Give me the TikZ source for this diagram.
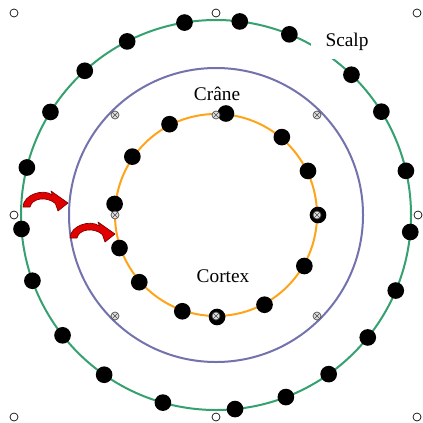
\documentclass[tikz,border=0pt]{standalone}
\usepackage{fontspec}
\setmainfont{Liberation Serif}
\usetikzlibrary{positioning,calc}
\definecolor{scalpgreen}{HTML}{35A070}
\definecolor{craneblue}{HTML}{7272AC}
\definecolor{cortexorange}{HTML}{FFA31A}
\definecolor{arrowred}{HTML}{E00000}
\definecolor{arrowdark}{HTML}{7A0000}

\begin{document}
\begin{tikzpicture}[x=0.75pt,y=0.75pt,
  ring/.style={line width=1.5pt},
  elec/.style={circle,fill=black,inner sep=0pt,minimum size=12.5pt},
  handle/.style={circle,draw=black,line width=0.5pt,fill=white,inner sep=0pt,minimum size=6pt},
  xhandle/.style={circle,draw=black!70,line width=0.5pt,fill=gray!25,inner sep=0pt,minimum size=6pt,
    path picture={\draw[black!70,line width=0.45pt] (path picture bounding box.south west) -- (path picture bounding box.north east)
      (path picture bounding box.north west) -- (path picture bounding box.south east);}},
  lbl/.style={font=\fontsize{14.5}{17}\selectfont,inner sep=0pt},
  hop/.style={fill=arrowred,draw=arrowdark,line width=0.5pt,line join=round}]
  \useasboundingbox (0,0) rectangle (423,422);
  \coordinate (ctr) at (216,207);
  \draw[ring,scalpgreen] (ctr) circle (195);
  \draw[ring,craneblue] (ctr) circle (147);
  \draw[ring,cortexorange] (ctr) circle (101);
  \node[lbl,fill=white,minimum width=54pt,minimum height=25.5pt] (scalp) at (347,380) {Scalp};
  \node[lbl] (crane) at (217,328) {Crâne};
  \node[lbl] (cortex) at (223,146) {Cortex};
  \foreach \a [count=\i] in {99.3,83,67.9,46,32,13.1,-5,-22.8,-38.9,-54.7,-69,-84.4,-105.8,-125,-141.9,-160.3,-175.9,165.9,148.1,132.3,117.1}
    \node[elec] (s\i) at ($(ctr)+(\a:195)$) {};
  \foreach \a [count=\i] in {117.1,145.1,173.8,198.9,221.2,250.7,270.6,298.4,330,0,25.6,49.8,84.4}
    \node[elec] (c\i) at ($(ctr)+(\a:102)$) {};
  \foreach \x/\y [count=\i] in {14/409,216/409,417/409,14/207,418/207,14/5,216/5,417/5}
    \node[handle] (h\i) at (\x,\y) {};
  \foreach \x/\y [count=\i] in {115/307,216/307,317/307,115/207,317/207,115/106,216/106,317/106}
    \node[xhandle] (k\i) at (\x,\y) {};
  \foreach \o in {(23,215),(70,184)}
    \filldraw[hop,shift={\o}] (0,0) .. controls (0,12) and (20,19) .. (29.4,12) -- (28,16) -- (45,4) -- (35,-4)
      -- (32.4,3.4) .. controls (24,11) and (9,9) .. (7,0) -- cycle;
\end{tikzpicture}
\end{document}
